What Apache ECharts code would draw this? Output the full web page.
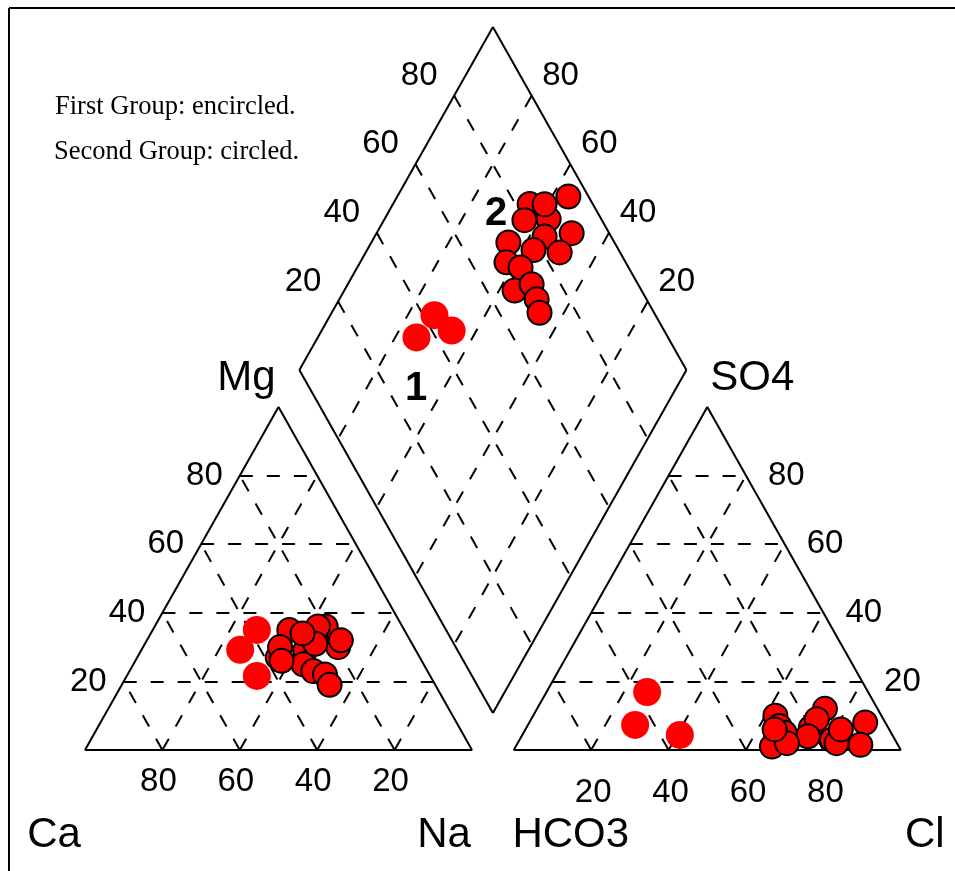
<!DOCTYPE html>
<html><head><meta charset="utf-8">
<script src="https://cdn.jsdelivr.net/npm/echarts@6/dist/echarts.min.js"></script>
<style>html,body{margin:0;padding:0;background:#fff}#c{width:955px;height:871px}</style>
</head><body><div id="c"></div><script>
// ---------------- data (percent of meq/L) ----------------
const group1Ca   = [38.1, 45.3, 44.8];
const group1Mg   = [35.0, 29.2, 21.6];
const group1Na   = [26.9, 25.5, 33.6];
const group1HCO3 = [57.1, 65.0, 54.9];
const group1SO4  = [16.9, 7.3, 4.4];
const group1Cl   = [26.0, 27.7, 40.7];

const group2Ca   = [19.8, 29.7, 28.6, 36.7, 31.1, 19.6, 34.6, 24.0, 17.9, 36.2, 21.8, 25.0, 29.5, 27.0, 27.3, 26.8];
const group2Mg   = [36, 35, 29, 27, 25, 30, 30, 33, 32, 26, 36, 31, 23, 22, 19, 34];
const group2Na   = [44.2, 35.3, 42.4, 36.3, 43.9, 50.4, 35.4, 43.0, 50.1, 37.8, 42.2, 44.0, 47.5, 51.0, 53.7, 39.2];
const group2HCO3 = [5.2, 16.3, 13.6, 20.0, 17.2, 9.7, 27.4, 22.0, 15.6, 30.8, 27.9, 32.8, 27.5, 28.4, 29.6, 12.5];
const group2SO4  = [8, 3, 12, 6.5, 9, 1.5, 10, 4, 2, 3, 7, 1, 5, 2, 6, 6];
const group2Cl   = [86.8, 80.7, 74.4, 73.5, 73.8, 88.8, 62.6, 74.0, 82.4, 66.2, 65.1, 66.2, 67.5, 69.6, 64.4, 81.5];

const tickValues  = [80, 60, 40, 20];
const gridSteps   = [20, 40, 60, 80];
const cornerNames = { ca: 'Ca', mg: 'Mg', na: 'Na', hco3: 'HCO3', so4: 'SO4', cl: 'Cl' };
const legendLines = ['First Group: encircled.', 'Second Group: circled.'];
const groupMarks  = ['1', '2'];

// ---------------- geometry (layout) ----------------
const H = 50 * Math.sqrt(3);     // triangle height for side 100
const G = 10.8;                  // gap between triangles
const X0PX = 85, Y0PX = 750, SX = 3.87, SY = 3.96, W = 955, HT = 871;

function cat(ca, mg, na) { return [na + mg / 2, mg * H / 100]; }
function ani(hco3, so4, cl) { return [100 + G + cl + so4 / 2, so4 * H / 100]; }
const TOP = [100 + G / 2, 2 * H + G * Math.sqrt(3) / 2];
function dia(na, hco3) { return [TOP[0] - 50 * hco3 / 100 + 50 * na / 100, TOP[1] - H * (hco3 + na) / 100]; }

// ---------------- lines ----------------
const outline = [];
function poly(pts) { for (let i = 0; i < pts.length; i++) outline.push({ coords: [pts[i], pts[(i + 1) % pts.length]] }); }
poly([cat(100, 0, 0), cat(0, 0, 100), cat(0, 100, 0)]);
poly([ani(100, 0, 0), ani(0, 0, 100), ani(0, 100, 0)]);
poly([dia(0, 0), dia(100, 0), dia(100, 100), dia(0, 100)]);

const grid = [];
gridSteps.forEach(k => {
  grid.push({ coords: [cat(100 - k, k, 0), cat(0, k, 100 - k)] });
  grid.push({ coords: [cat(100 - k, 0, k), cat(0, 100 - k, k)] });
  grid.push({ coords: [cat(k, 0, 100 - k), cat(k, 100 - k, 0)] });
  grid.push({ coords: [ani(100 - k, k, 0), ani(0, k, 100 - k)] });
  grid.push({ coords: [ani(100 - k, 0, k), ani(0, 100 - k, k)] });
  grid.push({ coords: [ani(k, 0, 100 - k), ani(k, 100 - k, 0)] });
  grid.push({ coords: [dia(k, 0), dia(k, 100)] });
  grid.push({ coords: [dia(0, k), dia(100, k)] });
});

// ---------------- points ----------------
function pts(ca, mg, na, hco3, so4, cl) {
  const out = [];
  for (let i = 0; i < ca.length; i++) {
    out.push(cat(ca[i], mg[i], na[i]));
    out.push(ani(hco3[i], so4[i], cl[i]));
    out.push(dia(na[i], hco3[i]));
  }
  return out;
}
const g1 = pts(group1Ca, group1Mg, group1Na, group1HCO3, group1SO4, group1Cl);
const g2 = pts(group2Ca, group2Mg, group2Na, group2HCO3, group2SO4, group2Cl);

// ---------------- labels ----------------
const NUMFONT = 'Liberation Sans';
function labelSeries(data, fontSize, offset, align) {
  return {
    type: 'scatter', silent: true, symbol: 'circle', symbolSize: 1, z: 5,
    itemStyle: { color: '#000', opacity: 1 },
    data: data,
    label: {
      show: true, position: 'inside', formatter: '{b}', color: '#000', opacity: 1,
      textBorderWidth: 0,
      fontFamily: NUMFONT, fontSize: fontSize, fontWeight: 'normal',
      offset: offset, align: align || 'center', verticalAlign: 'middle'
    }
  };
}
const catLeft = tickValues.map(k => ({ name: String(k), value: cat(100 - k, k, 0) }));
const catBottom = tickValues.map(k => ({ name: String(k), value: cat(k, 0, 100 - k) }));
const aniRight = tickValues.map(k => ({ name: String(k), value: ani(0, k, 100 - k) }));
const aniBottom = tickValues.slice().reverse().map(k => ({ name: String(k), value: ani(100 - k, 0, k) }));
const diaLeft = tickValues.map(k => ({ name: String(k), value: dia(0, 100 - k) }));
const diaRight = tickValues.map(k => ({ name: String(k), value: dia(100 - k, 0) }));

const chart = echarts.init(document.getElementById('c'), null, { renderer: 'canvas' });
chart.setOption({
  animation: false,
  backgroundColor: '#fff',
  grid: { left: 0, right: 0, top: 0, bottom: 0 },
  xAxis: { type: 'value', show: false, min: -X0PX / SX, max: (W - X0PX) / SX },
  yAxis: { type: 'value', show: false, min: -(HT - Y0PX) / SY, max: Y0PX / SY },
  graphic: [
    { type: 'line', shape: { x1: 9, y1: 8, x2: 955, y2: 8 }, style: { stroke: '#000', lineWidth: 2 } },
    { type: 'line', shape: { x1: 9, y1: 8, x2: 9, y2: 871 }, style: { stroke: '#000', lineWidth: 2 } },
    { type: 'text', x: 55, y: 107, style: { text: legendLines[0], fill: '#000', font: '26.5px "Liberation Serif"', verticalAlign: 'middle' } },
    { type: 'text', x: 54, y: 152, style: { text: legendLines[1], fill: '#000', font: '26.5px "Liberation Serif"', verticalAlign: 'middle' } },
    { type: 'text', x: 416, y: 389, style: { text: groupMarks[0], fill: '#000', font: 'bold 40px "Liberation Sans"', align: 'center', verticalAlign: 'middle' } },
    { type: 'text', x: 496, y: 214, style: { text: groupMarks[1], fill: '#000', font: 'bold 40px "Liberation Sans"', align: 'center', verticalAlign: 'middle' } }
  ],
  series: [
    { type: 'lines', coordinateSystem: 'cartesian2d', silent: true, z: 1,
      lineStyle: { color: '#000', width: 2, type: [13, 14], opacity: 1 }, data: grid },
    { type: 'lines', coordinateSystem: 'cartesian2d', silent: true, z: 2,
      lineStyle: { color: '#000', width: 2, type: 'solid', opacity: 1 }, data: outline },
    { type: 'scatter', silent: true, z: 3, symbol: 'circle', symbolSize: 28,
      itemStyle: { color: '#ff0000', opacity: 1 }, data: g1 },
    { type: 'scatter', silent: true, z: 4, symbol: 'circle', symbolSize: 24,
      itemStyle: { color: '#ff0000', borderColor: '#000', borderWidth: 2, opacity: 1 }, data: g2 },
    labelSeries(catLeft, 33, [-17, 0], 'right'),
    labelSeries(catBottom, 33, [-4, 32]),
    labelSeries(aniRight, 33, [22, 0], 'left'),
    labelSeries(aniBottom, 33, [2, 43]),
    labelSeries(diaLeft, 33, [-35, -20]),
    labelSeries(diaRight, 33, [29, -20]),
    labelSeries([{ name: cornerNames.ca, value: cat(100, 0, 0) }], 42, [-31, 85]),
    labelSeries([{ name: cornerNames.na, value: cat(0, 0, 100) }], 42, [-28, 85]),
    labelSeries([{ name: cornerNames.mg, value: cat(0, 100, 0) }], 42, [-32, -29]),
    labelSeries([{ name: cornerNames.hco3, value: ani(100, 0, 0) }], 42, [57, 85]),
    labelSeries([{ name: cornerNames.cl, value: ani(0, 0, 100) }], 42, [24, 85]),
    labelSeries([{ name: cornerNames.so4, value: ani(0, 100, 0) }], 42, [45, -29])
  ]
});
</script></body></html>
